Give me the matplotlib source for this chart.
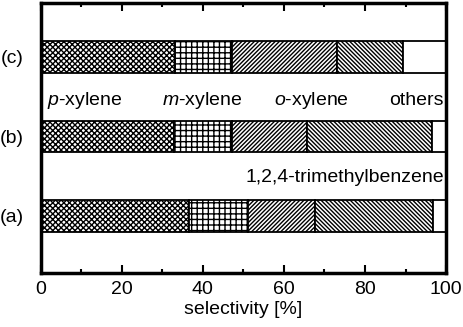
import numpy as np
import matplotlib
matplotlib.use('Agg')
import matplotlib.pyplot as plt
from matplotlib.ticker import MultipleLocator

plt.rcParams['font.family'] = 'Liberation Sans'
plt.rcParams['mathtext.fontset'] = 'custom'
plt.rcParams['mathtext.rm'] = 'Liberation Sans'
plt.rcParams['mathtext.it'] = 'Liberation Sans:italic'
plt.rcParams['hatch.linewidth'] = 1.0

samples = ['(a)', '(b)', '(c)']
p_xylene = [36.7, 33.0, 33.2]
m_xylene = [14.5, 14.2, 14.0]
o_xylene = [16.5, 18.5, 26.0]
tmb = [29.0, 30.9, 16.1]
others = [3.3, 3.4, 10.7]

series = [p_xylene, m_xylene, o_xylene, tmb, others]
hatches = ['xxxxxx', '+++', '////////', '\\\\\\\\\\\\\\\\', '']

fig = plt.figure(figsize=(4.63, 3.27), dpi=100)
ax = fig.add_axes([0.0875, 0.165, 0.876, 0.826])

y = np.arange(len(samples))
left = np.zeros(len(samples))
for vals, h in zip(series, hatches):
    ax.barh(y, vals, left=left, height=0.4, color='white', edgecolor='black',
            hatch=h, linewidth=1.3)
    left += np.array(vals)

fs = 14
ax.set_xlim(0, 100)
ax.set_ylim(-0.72, 2.68)
ax.set_yticks(y)
ax.set_yticklabels(samples, fontsize=fs)
ax.tick_params(axis='y', length=0, pad=12)
ax.xaxis.set_major_locator(MultipleLocator(20))
ax.xaxis.set_minor_locator(MultipleLocator(10))
ax.tick_params(axis='x', which='both', direction='in', top=True, labelsize=fs,
               width=1.5, pad=6)
ax.tick_params(axis='x', which='major', length=6)
ax.tick_params(axis='x', which='minor', length=3)
ax.set_xlabel('selectivity [%]', fontsize=fs, labelpad=2)
for s in ax.spines.values():
    s.set_linewidth(2.5)

ax.text(1.5, 1.45, r'$p$-xylene', fontsize=fs, va='center')
ax.text(30, 1.45, r'$m$-xylene', fontsize=fs, va='center')
ax.text(57.5, 1.45, r'$o$-xylene', fontsize=fs, va='center')
ax.text(99.5, 1.45, 'others', fontsize=fs, va='center', ha='right')
ax.text(99.5, 0.48, '1,2,4-trimethylbenzene', fontsize=fs, va='center', ha='right')

fig.savefig('out.png', dpi=100)
